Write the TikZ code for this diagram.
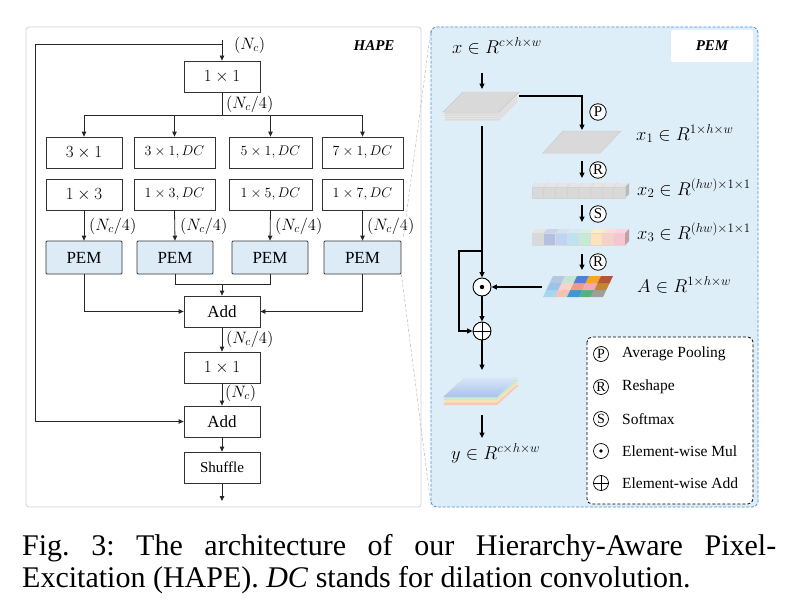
\RequirePackage{fix-cm}
\documentclass[tikz,border=0pt]{standalone}
\usepackage{fontspec}
\setmainfont{Liberation Serif}
\usetikzlibrary{arrows.meta,calc}
\definecolor{pemfill}{HTML}{DDEBF7}
\definecolor{panelfill}{HTML}{DEEEF9}
\definecolor{panelborder}{HTML}{4A8FE0}
\definecolor{stk}{HTML}{D9D9D9}
\definecolor{q1}{HTML}{D9D9D9}
\definecolor{q2}{HTML}{B4C0E2}
\definecolor{q3}{HTML}{BDD4F2}
\definecolor{q4}{HTML}{BDE2F2}
\definecolor{q5}{HTML}{C5EBD8}
\definecolor{q6}{HTML}{FFE3B8}
\definecolor{q7}{HTML}{F9D0C6}
\definecolor{q8}{HTML}{F7C5CF}
\definecolor{a20}{HTML}{B4C7E7}
\definecolor{a21}{HTML}{C5E5D3}
\definecolor{a22}{HTML}{4F81D9}
\definecolor{a23}{HTML}{F5A623}
\definecolor{a24}{HTML}{B5533C}
\definecolor{a10}{HTML}{9DC3E6}
\definecolor{a11}{HTML}{F9D3CB}
\definecolor{a12}{HTML}{EF9A8A}
\definecolor{a13}{HTML}{F2A8B8}
\definecolor{a14}{HTML}{C4862E}
\definecolor{a00}{HTML}{A7D6EF}
\definecolor{a01}{HTML}{F6C2B3}
\definecolor{a02}{HTML}{3A9AD6}
\definecolor{a03}{HTML}{5BAF7E}
\definecolor{a04}{HTML}{9E9E9E}
\definecolor{oblue}{HTML}{A9C2EA}
\definecolor{oblue2}{HTML}{DCE7F7}
\definecolor{ogreen}{HTML}{C9E9D3}
\definecolor{oyellow}{HTML}{FBE3B3}
\definecolor{opink}{HTML}{F8C7B5}
\tikzset{
  blk/.style={draw=black!80, line width=0.8pt, minimum height=31pt, minimum width=76pt, inner sep=0pt, font=\fontsize{17}{19}\selectfont},
  blkdc/.style={blk, font=\fontsize{14}{16}\selectfont},
  pemb/.style={blk, fill=pemfill, rounded corners=1pt, minimum height=33pt, font=\fontsize{17}{19}\selectfont},
  arr/.style={-{Triangle[length=5pt,width=4.5pt]}, line width=0.8pt, draw=black!85},
  ln/.style={line width=0.8pt, draw=black!85},
  lbl/.style={font=\fontsize{16.5}{18}\selectfont, inner sep=0pt, anchor=west},
  rarr/.style={-{Triangle[length=5.5pt,width=5pt]}, line width=1.1pt, draw=black},
  letc/.style={circle, draw=black, line width=0.8pt, fill=white, minimum size=16.5pt, inner sep=0pt, font=\fontsize{15}{15}\selectfont},
  legc/.style={circle, draw=black, line width=0.7pt, minimum size=15pt, inner sep=0pt, font=\fontsize{14}{14}\selectfont},
  opc/.style={circle, draw=black, line width=0.9pt, fill=white, minimum size=18pt, inner sep=0pt},
  legop/.style={circle, draw=black, line width=0.7pt, minimum size=15pt, inner sep=0pt},
  mlab/.style={font=\fontsize{18.5}{20}\selectfont, inner sep=0pt, anchor=base west},
  legt/.style={font=\fontsize{15.5}{17}\selectfont, inner sep=0pt, anchor=west},
  ttl/.style={font=\fontsize{15}{17}\selectfont\bfseries\itshape, inner sep=0pt},
  captxt/.style={font=\fontsize{30}{32}\selectfont, inner sep=0pt, anchor=base west},
}
\begin{document}
\begin{tikzpicture}[x=1pt,y=-1pt]
\useasboundingbox (0,0) rectangle (800,610);
% ---------------- left panel ----------------
\draw[draw=gray!35, line width=0.8pt, rounded corners=3pt] (26,27) rectangle (421,507);
\node[ttl] (hape) at (374,46) {HAPE};

\node[blk] (top11) at (222,76.5) {$1\times 1$};
\node[blk] (r1a) at (84,152.5) {$3\times 1$};
\node[blkdc, minimum width=81pt] (r1b) at (174.5,152.5) {$3\times 1, DC$};
\node[blkdc, minimum width=83pt] (r1c) at (270.5,152.5) {$5\times 1, DC$};
\node[blkdc, minimum width=81pt] (r1d) at (362.5,152.5) {$7\times 1, DC$};
\node[blk] (r2a) at (84,194.5) {$1\times 3$};
\node[blkdc, minimum width=81pt] (r2b) at (174.5,194.5) {$1\times 3, DC$};
\node[blkdc, minimum width=83pt] (r2c) at (270.5,194.5) {$1\times 5, DC$};
\node[blkdc, minimum width=81pt] (r2d) at (362.5,194.5) {$1\times 7, DC$};
\node[pemb] (p1) at (84,257.5) {PEM};
\node[pemb] (p2) at (175,257.5) {PEM};
\node[pemb] (p3) at (270,257.5) {PEM};
\node[pemb, minimum width=77pt] (p4) at (362.5,257.5) {PEM};
\node[blk, font=\fontsize{17}{19}\selectfont] (add1) at (222,311.5) {Add};
\node[blk] (mid11) at (222,367.5) {$1\times 1$};
\node[blk, font=\fontsize{17}{19}\selectfont] (add2) at (222,421.5) {Add};
\node[blk, font=\fontsize{15}{17}\selectfont] (shuf) at (222,467.5) {Shuffle};

% input and skip
\coordinate (in) at (222,40);
\coordinate (skipS) at (222,44);
\coordinate (skipL) at (35,44);
\coordinate (out) at (222,501);
\draw[arr] (in) -- (top11.north);
\draw[arr] (skipS) -- (skipL) |- (add2.west);
\node[lbl] (lNc) at (234,45) {$(N_c)$};

% branch
\coordinate (br) at (222,115);
\draw[ln] (top11.south) -- (br);
\draw[arr] (br) -| (r1a.north);
\draw[arr] (br) -| (r1b.north);
\draw[arr] (br) -| (r1c.north);
\draw[arr] (br) -| (r1d.north);
\node[lbl] (lNc4a) at (226,104) {$(N_c/4)$};

% to PEMs
\draw[arr] (r2a.south) -- (p1.north);
\draw[arr] (r2b.south) -- (p2.north);
\draw[arr] (r2c.south) -- (p3.north);
\draw[arr] (r2d.south) -- (p4.north);
\node[lbl] (lb1) at (89,226) {$(N_c/4)$};
\node[lbl] (lb2) at (180,226) {$(N_c/4)$};
\node[lbl] (lb3) at (275,226) {$(N_c/4)$};
\node[lbl] (lb4) at (367,226) {$(N_c/4)$};

% merge
\coordinate (j2) at (175,284);
\coordinate (j3) at (270,284);
\coordinate (jm) at (222,284);
\draw[ln] (p2.south) -- (j2) -- (j3) -- (p3.south);
\draw[arr] (jm) -- (add1.north);
\draw[arr] (p1.south) |- (add1.west);
\draw[arr] (p4.south) |- (add1.east);
\draw[arr] (add1.south) -- (mid11.north);
\node[lbl] (lNc4b) at (226,339) {$(N_c/4)$};
\draw[arr] (mid11.south) -- (add2.north);
\node[lbl] (lNcb) at (225,393) {$(N_c)$};
\draw[arr] (add2.south) -- (shuf.north);
\draw[arr] (shuf.south) -- (out);

% zoom lines
\coordinate (rpTL) at (431,29);
\coordinate (rpBL) at (431,505);
\draw[gray!55, line width=0.5pt, dash pattern=on 3pt off 2pt] ($(p4.north east)+(2,-4)$) -- (rpTL);
\draw[gray!55, line width=0.5pt, dash pattern=on 3pt off 2pt] (p4.south east) -- (rpBL);

% ---------------- right panel ----------------
\draw[panelborder, dash pattern=on 3pt off 1.6pt, line width=0.8pt, fill=panelfill, rounded corners=6pt] (431,27) rectangle (758,507);
\node[ttl, fill=white, rounded corners=2pt, minimum width=82pt, minimum height=32pt] (pemt) at (712,46) {PEM};

\node[mlab] (xl) at (452,53) {$x\in R^{c\times h\times w}$};
\coordinate (xin) at (482,73);
\coordinate (sttop) at (482,89);
\draw[rarr] (xin) -- (sttop);

% input stack
\foreach \d in {8.8,6.6,4.4,2.2,0}{
  \draw[fill=stk, draw=gray!12, line width=0.4pt] (443,112+\d) -- (463,92+\d) -- (519,92+\d) -- (499,112+\d) -- cycle;
}
\draw[draw=gray!45, line width=0.4pt] (443,112) -- (463,92) -- (519,92) -- (499,112) -- cycle;

\coordinate (stR) at (519,96);
\coordinate (x1top) at (582,130);
\draw[rarr] (stR) -| (x1top);
\node[letc] (cP) at (598,112) {P};

% x1
\draw[fill=stk, draw=gray!40, line width=0.5pt] (543,153) -- (563,131) -- (621,131) -- (600,153) -- cycle;
\node[mlab] (x1l) at (636,140) {$x_1\in R^{1\times h\times w}$};

\coordinate (ra1) at (582,161);
\coordinate (rb1) at (582,178);
\draw[rarr] (ra1) -- (rb1);
\node[letc] (cR1) at (598,170) {R};

% x2 bar
\fill[gray!20] (532,187) -- (536,183) -- (629,183) -- (625,187) -- cycle;
\fill[gray!55] (625,187) -- (629,183) -- (629,194) -- (625,198) -- cycle;
\foreach \i in {0,...,7}{
  \draw[fill=stk, draw=gray!35, line width=0.4pt] (532+\i*11.625,187) rectangle (532+\i*11.625+11.625,198);
  \draw[draw=gray!35, line width=0.3pt] (532+\i*11.625,187) -- (536+\i*11.625,183);
}
\node[mlab] (x2l) at (637,195) {$x_2\in R^{(hw)\times 1\times 1}$};

\coordinate (sa) at (582,205);
\coordinate (sb) at (582,222);
\draw[rarr] (sa) -- (sb);
\node[letc] (cS) at (598,214) {S};

% x3 bar
\foreach \i/\c in {0/q1,1/q2,2/q3,3/q4,4/q5,5/q6,6/q7,7/q8}{
  \fill[\c!70!white] (532+\i*11.625,233) -- (536+\i*11.625,229) -- (536+\i*11.625+11.625,229) -- (532+\i*11.625+11.625,233) -- cycle;
  \draw[fill=\c, draw=gray!30, line width=0.4pt] (532+\i*11.625,233) rectangle (532+\i*11.625+11.625,245);
}
\fill[q8!80!black] (625,233) -- (629,229) -- (629,241) -- (625,245) -- cycle;
\node[mlab] (x3l) at (637,239) {$x_3\in R^{(hw)\times 1\times 1}$};

\coordinate (ra2) at (582,254);
\coordinate (rb2) at (582,270);
\draw[rarr] (ra2) -- (rb2);
\node[letc] (cR2) at (598,262) {R};

% A grid
\foreach \r in {0,1,2}{
  \foreach \c in {0,...,4}{
    \fill[a\r\c] (543+\c*12+\r*3.333,297-7*\r) -- ++(12,0) -- ++(3.333,-7) -- ++(-12,0) -- cycle;
  }
}
\node[mlab] (Al) at (637,292) {$A\in R^{1\times h\times w}$};

% operators
\node[opc] (mul) at (482,287) {};
\fill (mul.center) circle (2.2pt);
\node[opc] (add) at (482,331) {};
\draw[line width=0.9pt] (add.north) -- (add.south);
\draw[line width=0.9pt] (add.west) -- (add.east);

\coordinate (stB) at (482,126);
\draw[rarr] (stB) -- (mul.north);
\coordinate (Aleft) at (542,287);
\draw[rarr] (Aleft) -- (mul.east);
\coordinate (brR) at (482,251);
\coordinate (brL) at (459,251);
\draw[rarr] (brR) -- (brL) |- (add.west);
\draw[rarr] (mul.south) -- (add.north);
\coordinate (otop) at (482,370);
\draw[rarr] (add.south) -- (otop);

% output stack
\fill[opink] (443,405) -- (465,385) -- (519,385) -- (497,405) -- cycle;
\fill[oyellow] (443,402.5) -- (465,382.5) -- (519,382.5) -- (497,402.5) -- cycle;
\fill[ogreen] (443,400) -- (465,380) -- (519,380) -- (497,400) -- cycle;
\shade[top color=oblue2, bottom color=oblue] (443,397) -- (465,377) -- (519,377) -- (497,397) -- cycle;

\coordinate (o1) at (482,415);
\coordinate (o2) at (482,438);
\draw[rarr] (o1) -- (o2);
\node[mlab] (yl) at (451,459) {$y\in R^{c\times h\times w}$};

% legend
\draw[black, dash pattern=on 3pt off 2pt, line width=0.8pt, rounded corners=5pt, fill=white] (587,337) rectangle (753,504);
\node[legc] (lgP) at (601,354) {P};
\node[legt] (lgPt) at (622,354) {Average Pooling};
\node[legc] (lgR) at (601,387) {R};
\node[legt] (lgRt) at (622,387) {Reshape};
\node[legc] (lgS) at (601,419) {S};
\node[legt] (lgSt) at (622,419) {Softmax};
\node[legop] (lgM) at (601,451) {};
\fill (lgM.center) circle (1.8pt);
\node[legt] (lgMt) at (622,451) {Element-wise Mul};
\node[legop] (lgA) at (601,483) {};
\draw[line width=0.7pt] (lgA.north) -- (lgA.south);
\draw[line width=0.7pt] (lgA.west) -- (lgA.east);
\node[legt] (lgAt) at (622,483) {Element-wise Add};

% caption
\node[captxt] (cap1) at (22,555) {\hbox to 754pt{Fig.\hfill 3:\hfill The\hfill architecture\hfill of\hfill our\hfill Hierarchy-Aware\hfill Pixel-}};
\node[captxt] (cap2) at (22,587) {Excitation (HAPE). \textit{DC} stands for dilation convolution.};
\end{tikzpicture}
\end{document}
